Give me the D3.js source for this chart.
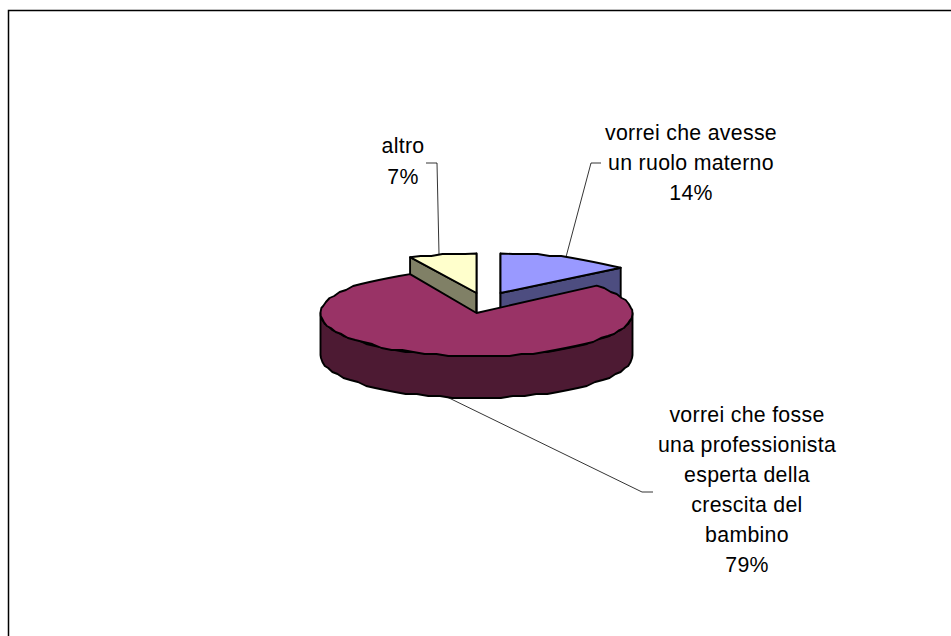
<!DOCTYPE html>
<html>
<head>
<meta charset="utf-8">
<script src="https://d3js.org/d3.v7.min.js"></script>
<style>
  html, body { margin: 0; padding: 0; background: #fff; }
  svg { display: block; }
  text { font-family: "Liberation Sans", Arial, sans-serif; font-size: 21.3px; letter-spacing: 0.3px; fill: #000; text-anchor: middle; }
</style>
</head>
<body>
<svg id="chart"></svg>
<script>
const categories = [
  "vorrei che avesse un ruolo materno",
  "vorrei che fosse una professionista esperta della crescita del bambino",
  "altro"
];
const values = [14, 79, 7];
const topColors = ["#9999ff", "#993366", "#ffffcc"];
const sideColors = ["#4d4d80", "#4d1a33", "#808066"];
const labelLines = [
  ["vorrei che avesse", "un ruolo materno", "14%"],
  ["vorrei che fosse", "una professionista", "esperta della", "crescita del", "bambino", "79%"],
  ["altro", "7%"]
];

const width = 951, height = 636;
const cx = 476.5, cy = 313, rx = 156, ry = 43, depth = 42;
// exploded slices are shifted by hand, like the original
const shift = [[24, -20], [0, 0], [0, -20]];
const squash = [0.92, 1, 0.92];
const labelPos = [[691, 140], [747, 422], [403, 153]];
const leaders = [
  [[566, 257], [591, 163], [601, 163]],
  [[447, 397], [642, 492], [653, 492]],
  [[439, 254], [437, 163], [426, 163]]
];

const svg = d3.select("#chart").attr("width", width).attr("height", height);

// frame only shows on the top and left
svg.append("path")
  .attr("d", `M8.5,${height}V10.5H${width}`)
  .attr("fill", "none")
  .attr("stroke", "#000")
  .attr("stroke-width", 1.5);

const slices = d3.pie().sort(null)(values);

const sx = d3.scaleLinear().domain([-1, 1]).range([cx - rx, cx + rx]);
const sy = d3.scaleLinear().domain([-1, 1]).range([cy - ry, cy + ry]);
const line = d3.line();

function rimPoint(a, i, dz = 0) {
  return [sx(Math.sin(a)) + shift[i][0], sy(-Math.cos(a) * squash[i]) + shift[i][1] + dz];
}
// coarse steps snapped to a grid give the wobbly edge of the original
function rim(a0, a1, i, dz = 0) {
  const n = Math.max(2, Math.ceil(Math.abs(a1 - a0) / 0.08));
  return d3.range(n + 1).map(k => {
    const p = rimPoint(a0 + (a1 - a0) * k / n, i, dz);
    if (k > 0 && k < n) p[1] = Math.round(p[1] / 2) * 2;
    return p;
  });
}
function centre(i, dz = 0) {
  return [sx(0) + shift[i][0], sy(0) + shift[i][1] + dz];
}
function drawShape(points, fill) {
  svg.append("path")
    .attr("d", line(points) + "Z")
    .attr("fill", fill)
    .attr("stroke", "#000")
    .attr("stroke-width", 1.9)
    .attr("stroke-linejoin", "round");
}
function drawCut(a, i) {
  drawShape([centre(i), rimPoint(a, i), rimPoint(a, i, depth), centre(i, depth)], sideColors[i]);
}
function drawWall(a0, a1, i) {
  const lo = Math.max(a0, Math.PI / 2), hi = Math.min(a1, Math.PI * 1.5);
  if (hi <= lo) return;
  drawShape(rim(lo, hi, i).concat(rim(hi, lo, i, depth)), sideColors[i]);
}
function drawTop(d, i) {
  drawShape([centre(i)].concat(rim(d.startAngle, d.endAngle, i)), topColors[i]);
}

// back slices first, the big one covers their walls
[0, 2].forEach(i => {
  const d = slices[i];
  drawCut(d.startAngle, i);
  drawCut(d.endAngle, i);
  drawTop(d, i);
});
drawWall(slices[1].startAngle, slices[1].endAngle, 1);
drawTop(slices[1], 1);

leaders.forEach(pts => {
  svg.append("path")
    .attr("d", line(pts))
    .attr("fill", "none")
    .attr("stroke", "#000")
    .attr("stroke-width", 0.8);
});

labelLines.forEach((lines, i) => {
  const t = svg.append("text").attr("aria-label", categories[i]);
  lines.forEach((s, k) => {
    t.append("tspan")
      .attr("x", labelPos[i][0])
      .attr("y", labelPos[i][1] + k * (i === 2 ? 31 : 30))
      .text(s);
  });
});
</script>
</body>
</html>
